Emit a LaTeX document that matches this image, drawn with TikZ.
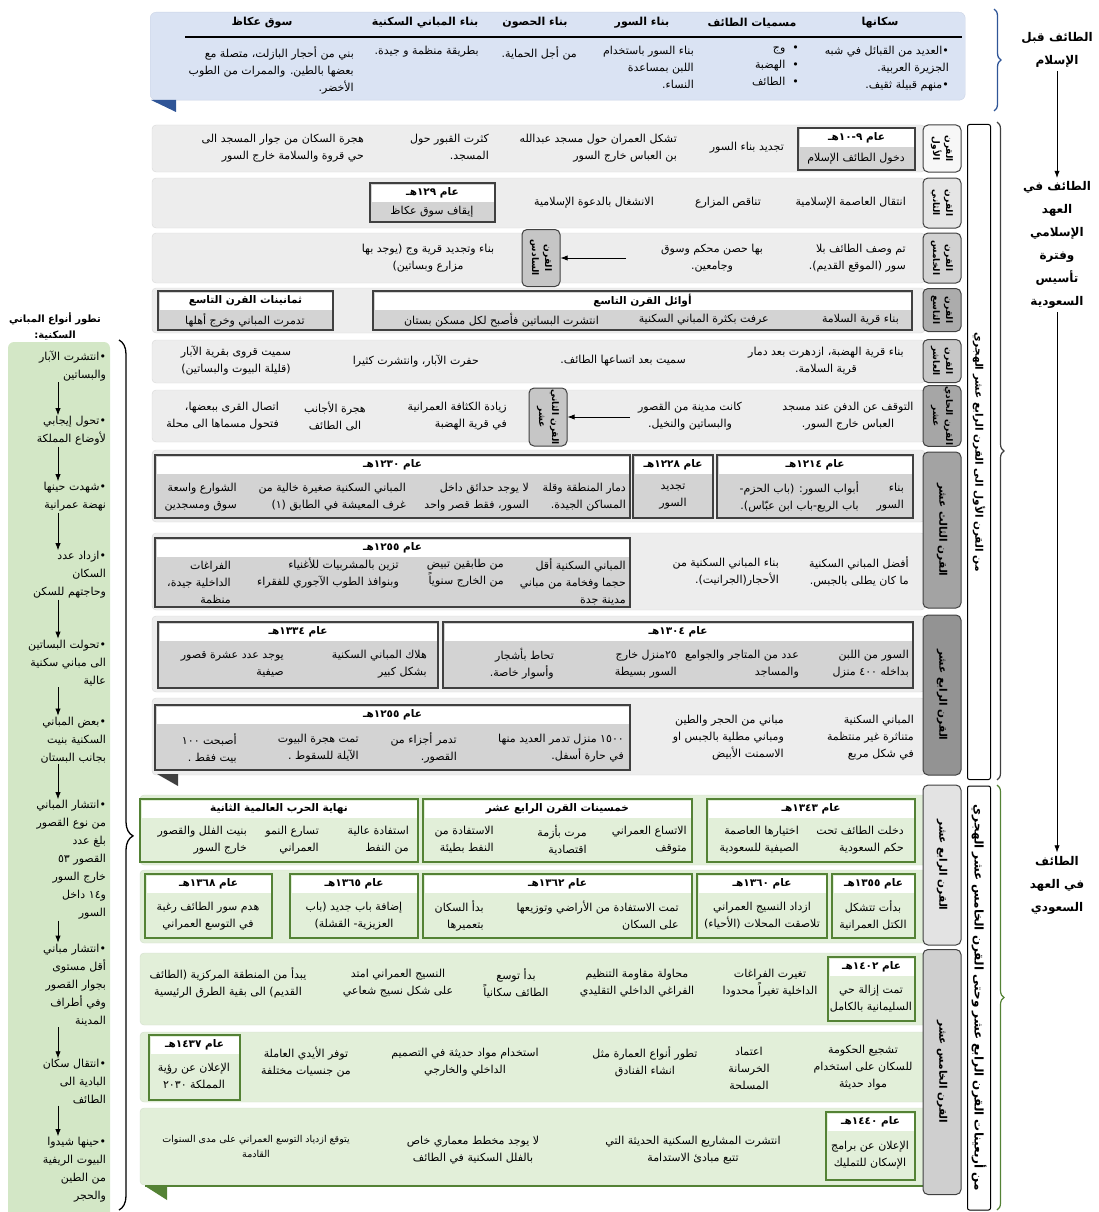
\documentclass[tikz,border=0pt]{standalone}
\usepackage{fontspec}
\setmainfont{DejaVu Sans}[Script=Arabic]
\TeXXeTstate=1
\usepackage{tikz}
\usetikzlibrary{arrows.meta,positioning,calc,decorations.pathreplacing}
\definecolor{rowgray}{HTML}{EDEDED}
\definecolor{boxgray}{HTML}{D3D3D3}
\definecolor{darkline}{HTML}{404040}
\definecolor{rowgreen}{HTML}{E2EFD9}
\definecolor{boxgreen}{HTML}{548235}
\definecolor{sidegreen}{HTML}{D3E7C6}
\definecolor{topblue}{HTML}{DAE3F3}
\definecolor{foldblue}{HTML}{2F5597}
\newcommand\rl[1]{\beginR#1\endR}
\tikzset{
  rowbg/.style={fill=rowgray, draw=gray!30, rounded corners=4pt},
  greenrow/.style={fill=rowgreen, draw=rowgreen!85!gray, rounded corners=4pt},
  ybox/.style={draw=darkline, line width=1.3pt, fill=boxgray, inner sep=0pt, outer sep=0pt},
  gbox/.style={draw=boxgreen, line width=1.6pt, fill=rowgreen, inner sep=0pt, outer sep=0pt},
  head/.style={font=\bfseries\fontsize{10.5}{12}\selectfont, inner sep=1pt},
  colhead/.style={font=\bfseries\fontsize{11}{13}\selectfont, inner sep=1pt},
  txt/.style={align=right, anchor=east, inner sep=1pt},
  ttxt/.style={align=right, anchor=north east, inner sep=1pt},
  ctxt/.style={align=center, inner sep=1pt},
  tab/.style={rotate=-90, draw=darkline, line width=1pt, rounded corners=5pt,
    align=center, inner sep=1pt, font=\bfseries\fontsize{9}{13}\selectfont, minimum height=38pt},
  longtab/.style={tab, font=\bfseries\fontsize{10.5}{13}\selectfont},
  period/.style={rotate=-90, draw, line width=1pt, fill=white, rounded corners=2pt,
    minimum height=23pt, font=\bfseries\fontsize{10.5}{12}\selectfont},
  era/.style={font=\bfseries\fontsize{12}{23}\selectfont, align=center},
  sideitem/.style={text width=96pt, align=right, inner sep=1pt, font=\fontsize{11}{18}\selectfont},
  flow/.style={-{Latex[length=2.5mm]}, thick}
}
% box with a white heading strip
\newcommand\yrbox[7][ybox]{%
  \node[#1, anchor=north west, minimum width={#5-#3}, minimum height={#6-#4}] (#2) at (#3,#4) {};
  \fill[white] ([shift={(1.5,1.5)}]#2.north west) rectangle ([shift={(-1.5,19)}]#2.north east);
  \node[head] (#2-h) at ([yshift=-10pt]#2.north) {\rl{#7}};
}

\begin{document}
\begin{tikzpicture}[x=1pt, y=-1pt, font=\fontsize{11}{17}\selectfont]
\useasboundingbox (0,0) rectangle (1099,1212);

% before Islam
\node[fill=topblue, draw=foldblue!25, rounded corners=6pt, minimum width=815, minimum height=88, anchor=north west] (pre) at (150,12) {};
\fill[foldblue] (151,100) -- (176,100) -- (176,112) -- cycle;
\draw[line width=1.5pt] (185,37) -- (962,37);
\node[colhead] (ph1) at (880,23) {\rl{سكانها}};
\node[colhead] (ph2) at (752,23) {\rl{مسميات الطائف}};
\node[colhead] (ph3) at (642,23) {\rl{بناء السور}};
\node[colhead] (ph4) at (535,23) {\rl{بناء الحصون}};
\node[colhead] (ph5) at (425,23) {\rl{بناء المباني السكنية}};
\node[colhead] (ph6) at (262,23) {\rl{سوق عكاظ}};
\node[ttxt] (p1) at (950,45) {\rl{•العديد من القبائل في شبه}\\\rl{الجزيرة العربية.}\\\rl{•منهم قبيلة ثقيف.}};
\node[ttxt] (p2) at (800,45) {\rl{•\ \ وج}\\\rl{•\ \ الهضبة}\\\rl{•\ \ الطائف}};
\node[ttxt] (p3) at (695,45) {\rl{بناء السور باستخدام}\\\rl{اللبن بمساعدة}\\\rl{النساء.}};
\node[ttxt] (p4) at (578,45) {\rl{من أجل الحماية.}};
\node[ttxt] (p5) at (480,45) {\rl{بطريقة منظمة و جيدة.}};
\node[ttxt] (p6) at (355,45) {\rl{بني من أحجار البازلت، متصلة مع}\\\rl{بعضها بالطين. والممرات من الطوب}\\\rl{الأخضر.}};

% first to fourteenth century
\draw[rowbg] (152,125) rectangle (925,172);
\yrbox{y1}{798}{128}{915}{170}{عام ٩-١٠هـ}
\node[ctxt] (y1b) at (856,159) {\rl{دخول الطائف الإسلام}};
\node[txt] (r1a) at (785,148) {\rl{تجديد بناء السور}};
\node[txt] (r1b) at (678,148) {\rl{تشكل العمران حول مسجد عبدالله}\\\rl{بن العباس خارج السور}};
\node[txt] (r1c) at (490,148) {\rl{كثرت القبور حول}\\\rl{المسجد.}};
\node[txt] (r1d) at (365,148) {\rl{هجرة السكان من جوار المسجد الى}\\\rl{حي قروة والسلامة خارج السور}};

\draw[rowbg] (152,178) rectangle (925,228);
\node[txt] (r2a) at (907,203) {\rl{انتقال العاصمة الإسلامية}};
\node[txt] (r2b) at (762,203) {\rl{تناقص المزارع}};
\node[txt] (r2c) at (655,203) {\rl{الانشغال بالدعوة الإسلامية}};
\yrbox{y2}{370}{183}{495}{222}{عام ١٢٩هـ}
\node[ctxt] (y2b) at (432,212) {\rl{إيقاف سوق عكاظ}};

\draw[rowbg] (152,233) rectangle (925,283);
\node[txt] (r3a) at (907,258) {\rl{تم وصف الطائف بلا}\\\rl{سور (الموقع القديم).}};
\node[ctxt] (r3b) at (712,258) {\rl{بها حصن محكم وسوق}\\\rl{وجامعين.}};
\node[tab, fill=gray!45, minimum width=57] (c6) at (541,258) {\rl{القرن}\\\rl{السادس}};
\coordinate (r3e) at (626,258);
\draw[flow] (r3e) -- (c6);
\node[ctxt] (r3c) at (428,258) {\rl{بناء وتجديد قرية وج (يوجد بها}\\\rl{مزارع وبساتين)}};

\draw[rowbg] (152,288) rectangle (925,333);
\yrbox{y3}{373}{291}{912}{330}{أوائل القرن التاسع}
\node[txt] (r4a) at (900,320) {\rl{بناء قرية السلامة}};
\node[txt] (r4b) at (770,320) {\rl{عرفت بكثرة المباني السكنية}};
\node[txt] (r4c) at (600,320) {\rl{انتشرت البساتين فأصبح لكل مسكن بستان}};
\yrbox{y4}{158}{291}{333}{330}{ثمانينات القرن التاسع}
\node[ctxt] (y4b) at (245,320) {\rl{تدمرت المباني وخرج أهلها}};

\draw[rowbg] (152,340) rectangle (925,383);
\node[ctxt] (r5a) at (826,361) {\rl{بناء قرية الهضبة، ازدهرت بعد دمار}\\\rl{قرية السلامة.}};
\node[txt] (r5b) at (687,361) {\rl{سميت بعد اتساعها الطائف.}};
\node[txt] (r5c) at (480,361) {\rl{حفرت الآبار، وانتشرت كثيرا}};
\node[ctxt] (r5d) at (236,361) {\rl{سميت قروى بقرية الآبار}\\\rl{(قليلة البيوت والبساتين)}};

\draw[rowbg] (152,390) rectangle (925,442);
\node[ctxt] (r6a) at (848,416) {\rl{التوقف عن الدفن عند مسجد}\\\rl{العباس خارج السور.}};
\node[ctxt] (r6b) at (690,416) {\rl{كانت مدينة من القصور}\\\rl{والبساتين والنخيل.}};
\node[tab, fill=gray!45, minimum width=58] (c12) at (548,417) {\rl{القرن الثاني}\\\rl{عشر}};
\coordinate (r6e) at (630,417);
\draw[flow] (r6e) -- (c12);
\node[txt] (r6c) at (508,416) {\rl{زيادة الكثافة العمرانية}\\\rl{في قرية الهضبة}};
\node[ctxt] (r6d) at (335,416) {\rl{هجرة الأجانب}\\\rl{الى الطائف}};
\node[txt] (r6f) at (280,416) {\rl{اتصال القرى ببعضها،}\\\rl{فتحول مسماها الى محلة}};

\draw[rowbg] (152,450) rectangle (925,522);
\yrbox{y5}{717}{455}{913}{518}{عام ١٢١٤هـ}
\node[txt] (y5a) at (905,497) {\rl{بناء}\\\rl{السور}};
\node[txt] (y5b) at (860,497) {\rl{أبواب السور: (باب الحزم-}\\\rl{باب الريع-باب ابن عبّاس).}};
\yrbox{y6}{633}{455}{713}{518}{عام ١٢٢٨هـ}
\node[ctxt] (y6a) at (673,497) {\rl{تجديد}\\\rl{السور}};
\yrbox{y7}{155}{455}{630}{518}{عام ١٢٣٠هـ}
\node[txt] (y7a) at (627,497) {\rl{دمار المنطقة وقلة}\\\rl{المساكن الجيدة.}};
\node[txt] (y7b) at (530,497) {\rl{لا يوجد حدائق داخل}\\\rl{السور، فقط قصر واحد}};
\node[txt] (y7c) at (407,497) {\rl{المباني السكنية صغيرة خالية من}\\\rl{غرف المعيشة في الطابق (١)}};
\node[txt] (y7d) at (238,497) {\rl{الشوارع واسعة}\\\rl{سوق ومسجدين}};

\draw[rowbg] (152,533) rectangle (925,610);
\node[txt] (r8a) at (910,572) {\rl{أفضل المباني السكنية}\\\rl{ما كان يطلى بالجبس.}};
\node[txt] (r8b) at (780,572) {\rl{بناء المباني السكنية من}\\\rl{الأحجار(الجرانيت).}};
\yrbox{y8}{155}{538}{630}{607}{عام ١٢٥٥هـ}
\node[txt] (y8a) at (627,582) {\rl{المباني السكنية أقل}\\\rl{حجما وفخامة من مباني}\\\rl{مدينة جدة}};
\node[txt] (y8b) at (505,573) {\rl{من طابقين تبيض}\\\rl{من الخارج سنوياً}};
\node[txt] (y8c) at (400,573) {\rl{تزين بالمشربيات للأغنياء}\\\rl{وبنوافذ الطوب الآجوري للفقراء}};
\node[txt] (y8d) at (232,582) {\rl{الفراغات}\\\rl{الداخلية جيدة،}\\\rl{منظمة}};

\draw[rowbg] (152,616) rectangle (925,692);
\yrbox{y9}{443}{622}{913}{688}{عام ١٣٠٤هـ}
\node[txt] (y9a) at (910,664) {\rl{السور من اللبن}\\\rl{بداخله ٤٠٠ منزل}};
\node[txt] (y9b) at (800,664) {\rl{عدد من المتاجر والجوامع}\\\rl{والمساجد}};
\node[txt] (y9c) at (678,664) {\rl{٢٥منزل خارج}\\\rl{السور بسيطة}};
\node[txt] (y9d) at (555,664) {\rl{تحاط بأشجار}\\\rl{وأسوار خاصة.}};
\yrbox{y10}{158}{622}{438}{688}{عام ١٣٣٤هـ}
\node[txt] (y10a) at (428,664) {\rl{هلاك المباني السكنية}\\\rl{بشكل كبير}};
\node[txt] (y10b) at (285,664) {\rl{يوجد عدد عشرة قصور}\\\rl{صيفية}};

\draw[rowbg] (152,698) rectangle (925,775);
\node[txt] (r10a) at (915,738) {\rl{المباني السكنية}\\\rl{متناثرة غير منتظمة}\\\rl{في شكل مربع}};
\node[txt] (r10b) at (785,738) {\rl{مباني من الحجر والطين}\\\rl{ومباني مطلية بالجبس او}\\\rl{الاسمنت الأبيض}};
\yrbox{y11}{155}{705}{630}{770}{عام ١٢٥٥هـ}
\node[txt] (y11a) at (625,748) {\rl{١٥٠٠ منزل تدمر العديد منها}\\\rl{في حارة أسفل.}};
\node[txt] (y11b) at (458,748) {\rl{تدمر أجزاء من}\\\rl{القصور.}};
\node[txt] (y11c) at (360,748) {\rl{تمت هجرة البيوت}\\\rl{الآيلة للسقوط .}};
\node[txt] (y11d) at (238,748) {\rl{أصبحت ١٠٠}\\\rl{بيت فقط .}};
\fill[darkline] (157,774) -- (178,774) -- (178,786) -- cycle;

% century tabs
\node[tab, fill=gray!6, minimum width=47] (c1) at (942,148.5) {\rl{القرن}\\\rl{الأول}};
\node[tab, fill=gray!20, minimum width=50] (c2) at (942,203) {\rl{القرن}\\\rl{الثاني}};
\node[tab, fill=gray!35, minimum width=50] (c5) at (942,258) {\rl{القرن}\\\rl{الخامس}};
\node[tab, fill=gray!65, minimum width=43] (c9) at (942,310) {\rl{القرن}\\\rl{التاسع}};
\node[tab, fill=gray!45, minimum width=43] (c10) at (942,361) {\rl{القرن}\\\rl{العاشر}};
\node[tab, fill=gray!70, minimum width=52] (c11) at (942,416) {\rl{القرن الحادي}\\\rl{عشر}};
\node[longtab, fill=gray!72, minimum width=156] (c13) at (942,530) {\rl{القرن الثالث عشر}};
\node[longtab, fill=gray!85, minimum width=160] (c14) at (942,695) {\rl{القرن الرابع عشر}};

% Saudi era
\draw[greenrow] (140,795) rectangle (928,865);
\yrbox[gbox]{s1}{707}{799}{915}{862}{عام ١٣٤٣هـ}
\node[txt] (s1a) at (905,840) {\rl{دخلت الطائف تحت}\\\rl{حكم السعودية}};
\node[txt] (s1b) at (800,840) {\rl{اختيارها العاصمة}\\\rl{الصيفية للسعودية}};
\yrbox[gbox]{s2}{423}{799}{692}{862}{خمسينات القرن الرابع عشر}
\node[txt] (s2a) at (688,840) {\rl{الاتساع العمراني}\\\rl{متوقف}};
\node[txt] (s2b) at (588,840) {\rl{مرت بأزمة}\\\rl{اقتصادية}};
\node[txt] (s2c) at (495,840) {\rl{الاستفادة من}\\\rl{النفط بطيئة}};
\yrbox[gbox]{s3}{140}{799}{418}{862}{نهاية الحرب العالمية الثانية}
\node[txt] (s3a) at (410,840) {\rl{استفادة عالية}\\\rl{من النفط}};
\node[txt] (s3b) at (320,840) {\rl{تسارع النمو}\\\rl{العمراني}};
\node[txt] (s3c) at (248,840) {\rl{بنيت الفلل والقصور}\\\rl{خارج السور}};

\draw[greenrow] (140,870) rectangle (928,943);
\yrbox[gbox]{s4}{832}{874}{915}{938}{عام ١٣٥٥هـ}
\node[ctxt] (s4a) at (873,916) {\rl{بدأت تتشكل}\\\rl{الكتل العمرانية}};
\yrbox[gbox]{s5}{697}{874}{827}{938}{عام ١٣٦٠هـ}
\node[ctxt] (s5a) at (762,916) {\rl{ازداد النسيج العمراني}\\\rl{تلاصقت المحلات (الأحياء)}};
\yrbox[gbox]{s6}{423}{874}{692}{938}{عام ١٣٦٢هـ}
\node[txt] (s6a) at (680,916) {\rl{تمت الاستفادة من الأراضي وتوزيعها}\\\rl{على السكان}};
\node[txt] (s6b) at (485,916) {\rl{بدأ السكان}\\\rl{بتعميرها}};
\yrbox[gbox]{s7}{290}{874}{418}{938}{عام ١٣٦٥هـ}
\node[ctxt] (s7a) at (354,916) {\rl{إضافة باب جديد (باب}\\\rl{العزيزية- القشلة)}};
\yrbox[gbox]{s8}{145}{874}{272}{938}{عام ١٣٦٨هـ}
\node[ctxt] (s8a) at (208,916) {\rl{هدم سور الطائف رغبة}\\\rl{في التوسع العمراني}};

\draw[greenrow] (140,953) rectangle (928,1025);
\yrbox[gbox]{s9}{828}{957}{915}{1021}{عام ١٤٠٢هـ}
\node[ctxt] (s9a) at (871,999) {\rl{تمت إزالة حي}\\\rl{السليمانية بالكامل}};
\node[ctxt] (s9b) at (770,983) {\rl{تغيرت الفراغات}\\\rl{الداخلية تغيراً محدودا}};
\node[ctxt] (s9c) at (637,983) {\rl{محاولة مقاومة التنظيم}\\\rl{الفراغي الداخلي التقليدي}};
\node[ctxt] (s9d) at (516,983) {\rl{بدأ توسع}\\\rl{الطائف سكانياً}};
\node[ctxt] (s9e) at (398,983) {\rl{النسيج العمراني امتد}\\\rl{على شكل نسيج شعاعي}};
\node[ctxt] (s9f) at (228,983) {\rl{يبدأ من المنطقة المركزية (الطائف}\\\rl{القديم) الى بقية الطرق الرئيسية}};

\draw[greenrow] (140,1032) rectangle (928,1102);
\node[ctxt] (s10a) at (863,1068) {\rl{تشجيع الحكومة}\\\rl{للسكان على استخدام}\\\rl{مواد حديثة}};
\node[ctxt] (s10b) at (749,1068) {\rl{اعتماد}\\\rl{الخرسانة}\\\rl{المسلحة}};
\node[ctxt] (s10c) at (645,1062) {\rl{تطور أنواع العمارة مثل}\\\rl{انشاء الفنادق}};
\node[ctxt] (s10d) at (465,1062) {\rl{استخدام مواد حديثة في التصميم}\\\rl{الداخلي والخارجي}};
\node[ctxt] (s10e) at (306,1062) {\rl{توفر الأيدي العاملة}\\\rl{من جنسيات مختلفة}};
\yrbox[gbox]{s11}{149}{1035}{240}{1100}{عام ١٤٣٧هـ}
\node[ctxt] (s11a) at (194,1076) {\rl{الإعلان عن رؤية}\\\rl{المملكة ٢٠٣٠}};

\draw[greenrow] (140,1108) rectangle (928,1185);
\yrbox[gbox]{s12}{826}{1112}{915}{1180}{عام ١٤٤٠هـ}
\node[ctxt] (s12a) at (870,1155) {\rl{الإعلان عن برامج}\\\rl{الإسكان للتمليك}};
\node[ctxt] (s12b) at (693,1150) {\rl{انتشرت المشاريع السكنية الحديثة التي}\\\rl{تتبع مبادئ الاستدامة}};
\node[ctxt] (s12c) at (473,1150) {\rl{لا يوجد مخطط معماري خاص}\\\rl{بالفلل السكنية في الطائف}};
\node[ctxt, font=\fontsize{9.5}{15}\selectfont] (s12d) at (256,1146) {\rl{يتوقع ازدياد التوسع العمراني على مدى السنوات}\\\rl{القادمة}};
\draw[boxgreen, line width=2.5pt] (145,1186) -- (928,1186);
\fill[boxgreen] (145,1186) -- (167,1186) -- (167,1200) -- cycle;

\node[longtab, fill=gray!22, minimum width=160] (c14s) at (942,865) {\rl{القرن الرابع عشر}};
\node[longtab, fill=gray!38, minimum width=245] (c15) at (942,1072) {\rl{القرن الخامس عشر}};

% periods and eras
\node[period, minimum width=655] (per1) at (979,452) {\rl{من القرن الأول الى القرن الرابع عشر الهجري}};
\node[period, minimum width=424, font=\bfseries\fontsize{12}{13}\selectfont] (per2) at (979,998) {\rl{من أربعينات القرن الرابع عشر وحتى القرن الخامس عشر الهجري}};
\draw[foldblue, line width=1.3pt, decorate, decoration={brace, amplitude=7pt}] (994,9) -- (994,111);
\draw[darkline, line width=1.2pt, decorate, decoration={brace, amplitude=7pt}] (997,122) -- (997,780);
\draw[boxgreen, line width=1.2pt, decorate, decoration={brace, amplitude=7pt}] (997,785) -- (997,1210);
\node[era] (e1) at (1057,50) {\rl{الطائف قبل}\\\rl{الإسلام}};
\node[era] (e2) at (1057,245) {\rl{الطائف في}\\\rl{العهد}\\\rl{الإسلامي}\\\rl{وفترة}\\\rl{تأسيس}\\\rl{السعودية}};
\node[era] (e3) at (1057,885) {\rl{الطائف}\\\rl{في العهد}\\\rl{السعودي}};
\draw[flow] (e1) -- (e2);
\draw[flow] (e2) -- (e3);

% building types column
\node[ctxt, font=\bfseries\fontsize{10}{16}\selectfont] (side) at (55,326) {\rl{تطور أنواع المباني}\\\rl{السكنية:}};
\fill[sidegreen, rounded corners=6pt] (8,342) rectangle (110,1225);
\node[sideitem] (sd1) at (58,366) {\rl{•انتشرت الآبار}\\\rl{والبساتين}};
\node[sideitem] (sd2) at (58,431) {\rl{•تحول إيجابي}\\\rl{لأوضاع المملكة}};
\node[sideitem] (sd3) at (58,497) {\rl{•شهدت حينها}\\\rl{نهضة عمرانية}};
\node[sideitem] (sd4) at (58,575) {\rl{•ازداد عدد}\\\rl{السكان}\\\rl{وحاجتهم للسكن}};
\node[sideitem] (sd5) at (58,663) {\rl{•تحولت البساتين}\\\rl{الى مباني سكنية}\\\rl{عالية}};
\node[sideitem] (sd6) at (58,740) {\rl{•بعض المباني}\\\rl{السكنية بنيت}\\\rl{بجانب البستان}};
\node[sideitem] (sd7) at (58,860) {\rl{•انتشار المباني}\\\rl{من نوع القصور}\\\rl{بلغ عدد}\\\rl{القصور ٥٣}\\\rl{خارج السور}\\\rl{و١٤ داخل}\\\rl{السور}};
\node[sideitem] (sd8) at (58,985) {\rl{•انتشار مباني}\\\rl{أقل مستوى}\\\rl{بجوار القصور}\\\rl{وفي أطراف}\\\rl{المدينة}};
\node[sideitem] (sd9) at (58,1082) {\rl{•انتقال سكان}\\\rl{البادية الى}\\\rl{الطائف}};
\node[sideitem] (sd10) at (58,1170) {\rl{•حينها شيدوا}\\\rl{البيوت الريفية}\\\rl{من الطين}\\\rl{والحجر}};
\draw[flow] (sd1) -- (sd2);
\draw[flow] (sd2) -- (sd3);
\draw[flow] (sd3) -- (sd4);
\draw[flow] (sd4) -- (sd5);
\draw[flow] (sd5) -- (sd6);
\draw[flow] (sd6) -- (sd7);
\draw[flow] (sd7) -- (sd8);
\draw[flow] (sd8) -- (sd9);
\draw[flow] (sd9) -- (sd10);
\draw[line width=1.3pt, decorate, decoration={brace, amplitude=14pt, aspect=0.57}] (119,340) -- (119,1210);
\end{tikzpicture}
\end{document}
